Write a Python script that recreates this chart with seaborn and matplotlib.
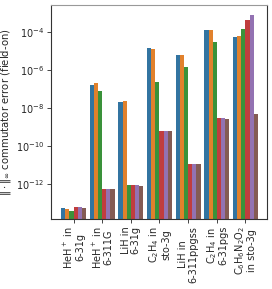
import numpy as np
import pandas as pd
import matplotlib
matplotlib.use("Agg")
import matplotlib.pyplot as plt
import seaborn as sns

categories = ["HeH$^+$ in\n6-31g", "HeH$^+$ in\n6-311G", "LiH in\n6-31g",
              "C$_2$H$_4$ in\nsto-3g", "LiH in\n6-311ppgss", "C$_2$H$_4$ in\n6-31pgs",
              "C$_6$H$_6$N$_2$O$_2$\nin sto-3g"]
series_names = ["s1", "s2", "s3", "s4", "s5", "s6"]
# log10 of error values
s1 = [-13.28, -6.81, -7.70, -4.86, -5.23, -3.91, -4.25]
s2 = [-13.32, -6.70, -7.61, -4.88, -5.21, -3.91, -4.21]
s3 = [-13.40, -7.11, -12.05, -6.63, -5.84, -4.54, -3.86]
s4 = [-13.21, -12.28, -12.05, -9.23, -10.95, -8.54, -3.38]
s5 = [-13.21, -12.28, -12.05, -9.23, -10.95, -8.54, -3.09]
s6 = [-13.28, -12.28, -12.10, -9.23, -10.95, -8.60, -8.33]

rows = []
for name, vals in zip(series_names, [s1, s2, s3, s4, s5, s6]):
    for c, v in zip(categories, vals):
        rows.append({"system": c, "series": name, "error": 10.0 ** v})
df = pd.DataFrame(rows)

sns.set_style("white")
plt.rcParams["font.family"] = ["DejaVu Sans"]
fig = plt.figure(figsize=(2.72, 2.89), dpi=100)
ax = fig.add_axes([0.1875, 0.2422, 0.9816 - 0.1875, 0.9827 - 0.2422])
sns.barplot(data=df, x="system", y="error", hue="series", order=categories,
            hue_order=series_names, palette="tab10", width=0.87, ax=ax,
            legend=False, linewidth=0)
ax.set_yscale("log")
ax.set_ylim(10 ** -13.84, 10 ** -2.58)
ax.set_xlim(-0.785, 6.75)
ax.set_yticks([1e-12, 1e-10, 1e-8, 1e-6, 1e-4])
ax.yaxis.set_minor_locator(matplotlib.ticker.NullLocator())
ax.set_xlabel("")
ax.set_ylabel(r"$\|\cdot\|_\infty$ commutator error (field-on)", fontsize=7.3, labelpad=2)
ax.tick_params(axis="both", labelsize=7, length=3, width=0.6, left=True, bottom=True, pad=2)
for lbl in ax.get_xticklabels():
    lbl.set_rotation(90)
    lbl.set_ha("center")
    lbl.set_va("top")
    lbl.set_multialignment("center")
    lbl.set_linespacing(1.0)
for sp in ax.spines.values():
    sp.set_visible(True)
    sp.set_color("#333333")
    sp.set_linewidth(0.8)
ax.spines["top"].set_color("#999999")
fig.savefig("out.png", dpi=100)
